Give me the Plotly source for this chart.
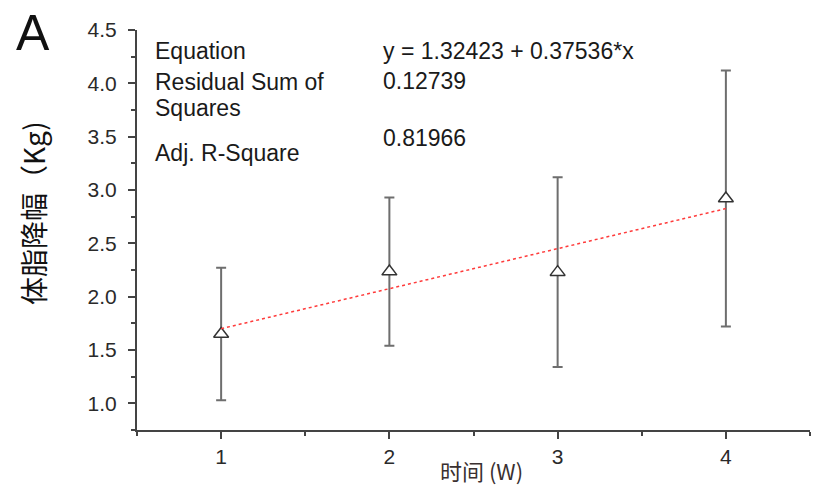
import plotly.graph_objects as go

weeks = [1, 2, 3, 4]
means = [1.65, 2.235, 2.23, 2.92]
errors = [0.62, 0.695, 0.89, 1.20]
intercept = 1.32423
slope = 0.37536
fit_x = [1, 4]
fit_y = [intercept + slope * v for v in fit_x]

x_ticks = [1, 2, 3, 4]
x_title = "时间 (W)"
y_title = "体脂降幅（Kg)"
table_labels = ["Equation", "Residual Sum of", "Squares", "Adj. R-Square"]
table_values = ["y = 1.32423 + 0.37536*x", "0.12739", "0.81966"]

W, H = 813, 487
L, R, T, B = 137, 3, 30, 57
pw, ph = W - L - R, H - T - B

def px(xp):
    return (xp - L) / pw

def py(yp):
    return (H - B - yp) / ph

fig = go.Figure()
fig.add_trace(go.Scatter(
    x=weeks, y=means, mode="markers",
    marker=dict(symbol="triangle-up", size=13, color="white",
                line=dict(color="#333333", width=1.5)),
    error_y=dict(type="data", array=errors, visible=True,
                 color="#6e6e6e", thickness=2, width=5),
    showlegend=False,
))
fig.add_trace(go.Scatter(
    x=fit_x, y=fit_y, mode="lines",
    line=dict(color="#ff3b3b", width=1.5, dash="dot"),
    showlegend=False,
))

font_txt = "Liberation Sans, Arial, sans-serif"
ann = []
label_y = [51, 82, 108, 153]
for t, yy in zip(table_labels, label_y):
    ann.append(dict(text=t, x=px(153), y=py(yy), xref="paper", yref="paper",
                    xanchor="left", yanchor="middle", showarrow=False,
                    font=dict(size=23, color="#1a1a1a", family=font_txt)))
value_y = [51, 81, 138]
for t, yy in zip(table_values, value_y):
    ann.append(dict(text=t, x=px(381), y=py(yy), xref="paper", yref="paper",
                    xanchor="left", yanchor="middle", showarrow=False,
                    font=dict(size=23, color="#1a1a1a", family=font_txt)))
ann.append(dict(text="A", x=px(33), y=py(33), xref="paper", yref="paper",
                xanchor="center", yanchor="middle", showarrow=False,
                font=dict(size=50, color="#111111", family=font_txt)))
ann.append(dict(text=y_title, x=px(33), y=py(213), xref="paper", yref="paper",
                xanchor="center", yanchor="middle", showarrow=False, textangle=-90,
                font=dict(size=28, color="#111111", family="Noto Sans CJK SC")))
ann.append(dict(text=x_title, x=px(481), y=py(470), xref="paper", yref="paper",
                xanchor="center", yanchor="middle", showarrow=False,
                font=dict(size=22, color="#3a3030", family="Noto Sans CJK SC")))

fig.update_layout(
    width=W, height=H,
    margin=dict(l=L, r=R, t=T, b=B),
    paper_bgcolor="white", plot_bgcolor="white",
    annotations=ann,
    xaxis=dict(range=[0.5, 4.5], tickvals=x_ticks, ticks="outside", ticklen=7,
               tickwidth=2, tickcolor="#444", showline=True, linecolor="#444",
               linewidth=2, showgrid=False, zeroline=False,
               tickfont=dict(size=21, color="#2a2a2a", family=font_txt),
               minor=dict(dtick=0.5, tick0=0.5, ticks="outside", ticklen=4,
                          tickwidth=2, tickcolor="#444", showgrid=False)),
    yaxis=dict(range=[0.75, 4.5], dtick=0.5, tick0=0, tickformat=".1f",
               ticks="outside", ticklen=7, tickwidth=2, tickcolor="#444",
               showline=True, linecolor="#444", linewidth=2, showgrid=False,
               zeroline=False, ticklabelstandoff=7,
               tickfont=dict(size=21, color="#2a2a2a", family=font_txt),
               minor=dict(dtick=0.25, tick0=0, ticks="outside", ticklen=4,
                          tickwidth=2, tickcolor="#444", showgrid=False)),
)

fig.write_html("out.html")
